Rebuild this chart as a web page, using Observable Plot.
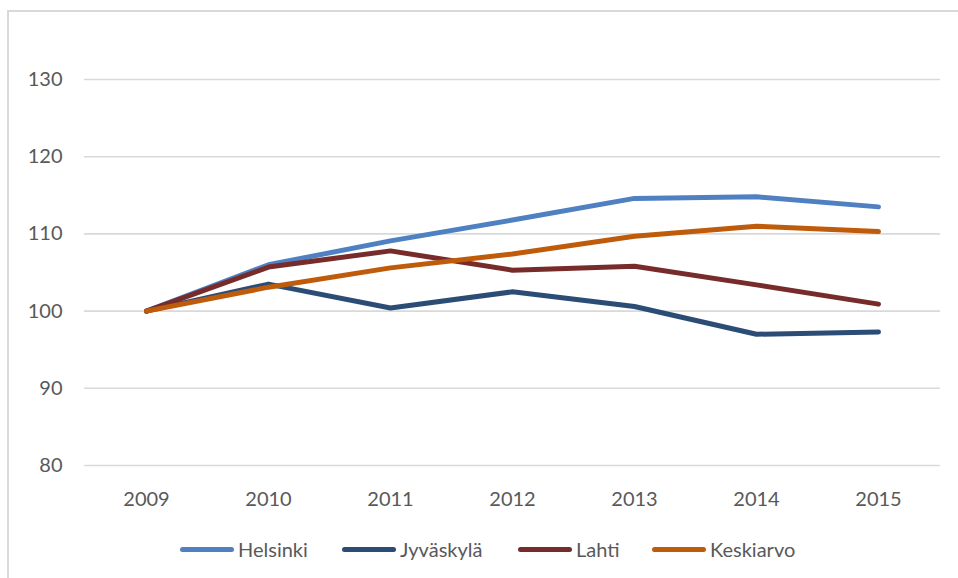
<!DOCTYPE html>
<html>
<head>
<meta charset="utf-8">
<script src="https://cdn.jsdelivr.net/npm/d3@7"></script>
<script src="https://cdn.jsdelivr.net/npm/@observablehq/plot@0.6"></script>
<style>
  html, body { margin: 0; padding: 0; background: #fff; }
  body { width: 958px; height: 578px; position: relative; overflow: hidden; font-family: Lato, "Open Sans", sans-serif; }
  #frame { position: absolute; left: 7px; top: 10px; width: 960px; height: 600px; border: 2px solid #d9d9d9; box-sizing: border-box; }
  #chart { position: absolute; left: 0; top: 0; }
  .leg { position: absolute; top: 537px; display: flex; align-items: center; font-size: 20px; color: #595959; line-height: 24px; }
  .sw { width: 54px; height: 5px; border-radius: 3px; margin-right: 4px; }
</style>
</head>
<body>
<div id="frame"></div>
<div id="chart"></div>
<div id="legend"></div>
<script>
const years = ["2009", "2010", "2011", "2012", "2013", "2014", "2015"];
const seriesNames = ["Helsinki", "Jyväskylä", "Lahti", "Keskiarvo"];
const seriesColors = ["#4f81c2", "#2b4c75", "#772c2b", "#bf5c0b"];
const helsinki  = [100, 106.0, 109.1, 111.8, 114.6, 114.8, 113.5];
const jyvaskyla = [100, 103.5, 100.4, 102.5, 100.6,  97.0,  97.3];
const lahti     = [100, 105.7, 107.8, 105.3, 105.8, 103.4, 100.9];
const keskiarvo = [100, 103.1, 105.6, 107.4, 109.7, 111.0, 110.3];
const yTicks = [80, 90, 100, 110, 120, 130];

const seriesValues = [helsinki, jyvaskyla, lahti, keskiarvo];
const data = [];
seriesNames.forEach((name, i) => {
  years.forEach((yr, j) => data.push({ year: yr, value: seriesValues[i][j], series: name }));
});

const chart = Plot.plot({
  width: 958,
  height: 520,
  marginLeft: 84,
  marginRight: 18,
  marginTop: 79,
  marginBottom: 55,
  style: { fontFamily: "Lato, 'Open Sans', sans-serif", fontSize: "20px", color: "#595959", background: "transparent" },
  x: { type: "point", domain: years, padding: 0.5, label: null },
  y: { domain: [80, 130], label: null },
  color: { domain: seriesNames, range: seriesColors },
  marks: [
    Plot.gridY(yTicks, { stroke: "#d9d9d9", strokeOpacity: 1, strokeWidth: 1.6 }),
    Plot.axisY(yTicks, { tickSize: 0, tickPadding: 22, label: null, fill: "#595959", fontSize: 20 }),
    Plot.axisX({ tickSize: 0, tickPadding: 26, label: null, fill: "#595959", fontSize: 20 }),
    Plot.line(data, { x: "year", y: "value", z: "series", stroke: "series", strokeWidth: 5, strokeLinecap: "round", strokeLinejoin: "round" })
  ]
});
document.getElementById("chart").appendChild(chart);

const legendLefts = [180, 342, 518, 652];
const legend = document.getElementById("legend");
seriesNames.forEach((name, i) => {
  const item = document.createElement("div");
  item.className = "leg";
  item.style.left = legendLefts[i] + "px";
  const sw = document.createElement("div");
  sw.className = "sw";
  sw.style.background = seriesColors[i];
  const t = document.createElement("span");
  t.textContent = name;
  item.appendChild(sw);
  item.appendChild(t);
  legend.appendChild(item);
});
</script>
</body>
</html>
